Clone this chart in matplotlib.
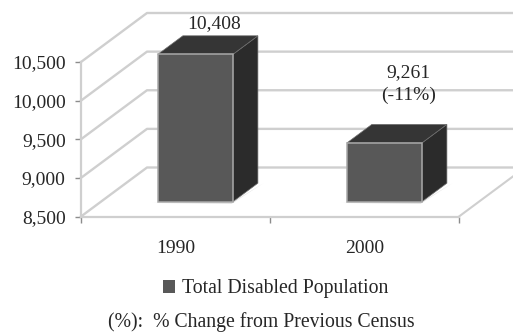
import matplotlib
matplotlib.use("Agg")
import matplotlib.pyplot as plt
from matplotlib.patches import Polygon, Patch

plt.rcParams['font.family'] = ['Liberation Serif', 'DejaVu Serif']

categories = ['1990', '2000']
population = [10408, 9261]
value_labels = ['10,408', '9,261\n(-11%)']
label_offsets_px = [(19, 22), (24, 39)]
y_ticks = [8500, 9000, 9500, 10000, 10500]
y_tick_labels = ['8,500', '9,000', '9,500', '10,000', '10,500']
legend_label = 'Total Disabled Population'
note = '(%):  % Change from Previous Census'

W, H = 513, 333
TEXT = '#262626'
GRID = '#cfcfcf'
FRONT, TOP, SIDE = '#585858', '#353535', '#2b2b2b'

fig = plt.figure(figsize=(W / 100, H / 100), dpi=100)
# Axes box is the front face of the oblique plot volume
ax = fig.add_axes([81 / W, 1 - 216.5 / H, 378 / W, 154.5 / H])
ax.set_xlim(0, 2)
ax.set_ylim(8500, 10500)
ax.patch.set_visible(False)

# Depth of the volume in axis units (66 px across, 49 px up)
DX = 66 / 189
DY = 49 / 154.5 * 2000


def proj(x, v, d):
    return x + d * DX, v + d * DY


# Side wall and back wall gridlines, plus the right edge of the floor
for v in y_ticks:
    xs, ys = zip(proj(0, v, 0), proj(0, v, 1), proj(2, v, 1))
    ax.plot(xs, ys, color=GRID, lw=1.7, clip_on=False, zorder=1,
            solid_joinstyle='round')
xs, ys = zip(proj(2, 8500, 0), proj(2, 8500, 1))
ax.plot(xs, ys, color=GRID, lw=1.5, clip_on=False, zorder=1)

# Oblique bars
BAR_W = 0.397
D0, D1 = 0.30, 0.68
for i, val in enumerate(population):
    cx = i + 0.5
    xl, xr = cx - BAR_W / 2, cx + BAR_W / 2
    base = 8500
    front = [proj(xl, base, D0), proj(xr, base, D0), proj(xr, val, D0), proj(xl, val, D0)]
    top = [proj(xl, val, D0), proj(xr, val, D0), proj(xr, val, D1), proj(xl, val, D1)]
    side = [proj(xr, base, D0), proj(xr, base, D1), proj(xr, val, D1), proj(xr, val, D0)]
    shadow = [proj(xl - 0.03, base - 15, D0), proj(xr, base - 15, D0 - 0.02),
              proj(xr + 0.03, base, D1), proj(xr, base, D0)]
    ax.add_patch(Polygon(shadow, closed=True, fc='#e4e4e4', ec='none', clip_on=False, zorder=2))
    ax.add_patch(Polygon(side, closed=True, fc=SIDE, ec='#6e6e6e', lw=0.5, clip_on=False, zorder=3))
    ax.add_patch(Polygon(top, closed=True, fc=TOP, ec='#6e6e6e', lw=0.5, clip_on=False, zorder=3))
    ax.add_patch(Polygon(front, closed=True, fc=FRONT, ec='#a8a8a8', lw=1.1, clip_on=False, zorder=4))
    ox, oy = label_offsets_px[i]
    ax.annotate(value_labels[i], xy=proj(cx, val, D0),
                xytext=(ox * 0.72, oy * 0.72), textcoords='offset points',
                ha='center', va='bottom', fontsize=14, color=TEXT,
                linespacing=1.42, annotation_clip=False, zorder=5)

# Axes: category labels sit between the major ticks
for s in ['top', 'right']:
    ax.spines[s].set_visible(False)
for s in ['left', 'bottom']:
    ax.spines[s].set_color(GRID)
    ax.spines[s].set_linewidth(1.6)
ax.set_yticks(y_ticks, y_tick_labels, fontsize=14, color=TEXT)
ax.set_xticks([0, 1, 2], [''] * 3)
ax.set_xticks([0.5, 1.5], categories, minor=True, fontsize=14, color=TEXT)
ax.tick_params(axis='y', length=4, width=1, color='#8c8c8c', pad=7)
ax.tick_params(axis='x', which='major', length=4, width=1, color='#8c8c8c')
ax.tick_params(axis='x', which='minor', length=0, pad=17)

fig.legend(handles=[Patch(fc=FRONT, ec='none', label=legend_label)],
           loc='center', bbox_to_anchor=(276 / W, 1 - 289 / H), frameon=False,
           fontsize=14.2, labelcolor=TEXT, handlelength=0.62, handleheight=0.62,
           handletextpad=0.35, borderpad=0)
fig.text(261 / W, 1 - 322 / H, note, ha='center', va='center', fontsize=14.2, color=TEXT)

fig.savefig('out.png', dpi=100)
